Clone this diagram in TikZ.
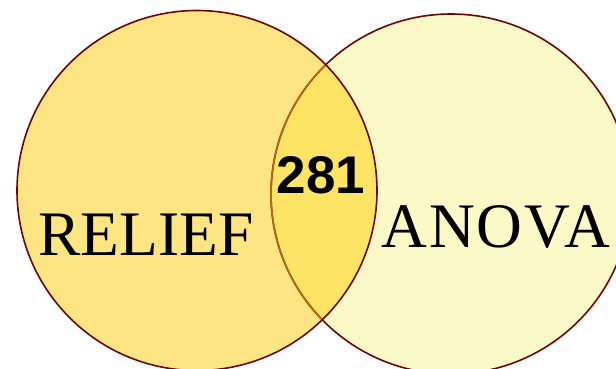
\documentclass[tikz,border=0pt]{standalone}
\usepackage{fontspec}
\setmainfont{Liberation Serif}
\newfontfamily\numfont{Liberation Sans}
\newfontfamily\spacedfont[LetterSpace=3.2]{Liberation Serif}
\definecolor{leftcol}{RGB}{253,229,132}
\definecolor{rightcol}{RGB}{252,249,200}
\definecolor{intercol}{RGB}{254,228,100}
\definecolor{edgecol}{RGB}{105,6,6}
\definecolor{inedge}{RGB}{175,108,20}
\tikzset{
  lbl/.style={inner sep=0pt, anchor=base, font=\fontsize{63.4}{70}\selectfont},
  num/.style={inner sep=0pt, anchor=base, font=\numfont\bfseries\fontsize{53}{60}\selectfont},
  rim/.style={line width=1.6pt}
}
\begin{document}
\begin{tikzpicture}[x=1pt,y=-1pt]
\useasboundingbox (0,0) rectangle (616,368);
\coordinate (cl) at (197,190.5);
\coordinate (cr) at (451,194);
\fill[rightcol] (cr) circle (180);
\fill[leftcol] (cl) circle (180);
\begin{scope}
  \clip (cl) circle (180);
  \fill[intercol] (cr) circle (180);
\end{scope}
\draw[rim, edgecol] (cr) circle (180);
\begin{scope}
  \clip (cl) circle (180);
  \draw[rim, inedge] (cr) circle (180);
\end{scope}
\draw[rim, edgecol] (cl) circle (180);
\node[lbl] (relief) at (146,255) {RELIEF};
\node[lbl, font=\spacedfont\fontsize{63.4}{70}\selectfont, anchor=base west] (anova) at (381,247) {ANOVA};
\node[num] (n281) at (321,193) {281};
\end{tikzpicture}
\end{document}
